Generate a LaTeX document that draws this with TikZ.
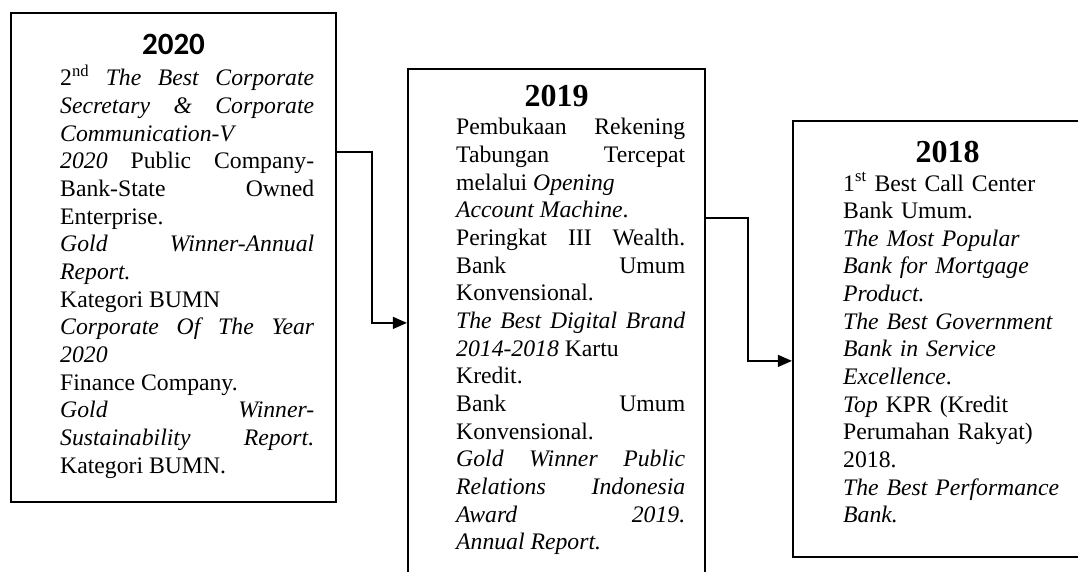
\documentclass[tikz,border=0pt]{standalone}
\usepackage{fontspec}
\setmainfont{Liberation Serif}
\newfontfamily\carlito{Carlito}
\usetikzlibrary{arrows.meta,calc}

\tikzset{
  yearbox/.style={draw, rectangle, line width=2.2pt, inner sep=0pt},
  yeartitle/.style={anchor=base, inner sep=0pt, font=\fontsize{32}{36}\selectfont\bfseries},
  awards/.style={anchor=base west, inner sep=0pt, align=justify,
    font=\fontsize{23.7}{27.65}\selectfont,
    execute at begin node={\tolerance=10000 \hbadness=10000 \hyphenpenalty=10000}},
  conn/.style={line width=1.3pt, -{Triangle[length=14pt,width=12pt]}}
}

\begin{document}
\begin{tikzpicture}[x=1pt,y=-1pt]
  \useasboundingbox (0,0) rectangle (1078,572);
  \clip (0,0) rectangle (1078,572);
  \def \Boxes {
    2020/173.5/257.5/325/489,
    2019/556.5/339.5/297/541,
    2018/947.5/339/309/436}

  \foreach \id / \x / \y / \w / \h in \Boxes {
    \node[yearbox, minimum width=\w pt, minimum height=\h pt] (b\id) at (\x, \y) {};
  }

  % years
  \node[yeartitle, font=\carlito\fontsize{31}{36}\selectfont\bfseries] (t2020) at (173.5,55) {2020};
  \node[yeartitle] (t2019) at (556.5,107) {2019};
  \node[yeartitle] (t2018) at (947.5,163) {2018};

  % awards of each year
  \node[awards, text width=254pt] (a2020) at (60,86) {2\textsuperscript{nd} \textit{The Best Corporate\linebreak
    Secretary \& Corporate\linebreak Communication-V\newline 2020} Public Company-\linebreak
    Bank-State Owned\linebreak Enterprise.\newline \textit{Gold Winner-Annual\linebreak Report.}\newline
    Kategori BUMN\newline \textit{Corporate Of The Year\linebreak 2020}\newline Finance Company.\newline
    \textit{Gold Winner-\linebreak Sustainability Report.}\linebreak Kategori BUMN.};
  \node[awards, text width=229pt] (a2019) at (456,135) {Pembukaan Rekening\linebreak
    Tabungan Tercepat\linebreak melalui \textit{Opening}\newline \textit{Account Machine}.\newline
    Peringkat III Wealth.\linebreak Bank Umum\linebreak Konvensional.\newline
    \textit{The Best Digital Brand}\linebreak \textit{2014-2018} Kartu\newline Kredit.\newline
    Bank Umum\linebreak Konvensional.\newline \textit{Gold Winner Public\linebreak
    Relations Indonesia\linebreak Award 2019.\linebreak Annual Report.}};
  \node[awards, align=left, text width=230pt] (a2018) at (843,191) {1\textsuperscript{st} Best Call Center\\
    Bank Umum.\\ \textit{The Most Popular}\\ \textit{Bank for Mortgage}\\ \textit{Product.}\\
    \textit{The Best Government}\\ \textit{Bank in Service}\\ \textit{Excellence}.\\
    \textit{Top} KPR (Kredit\\ Perumahan Rakyat)\\ 2018.\\ \textit{The Best Performance}\\ \textit{Bank.}};

  \draw[conn] ($(b2020.north east)+(0,140)$) -- ++(35,0) |- ($(b2019.north west)+(0,255)$);
  \draw[conn] ($(b2019.north east)+(0,150)$) -- ++(42,0) |- ($(b2018.north west)+(0,241)$);
\end{tikzpicture}
\end{document}
